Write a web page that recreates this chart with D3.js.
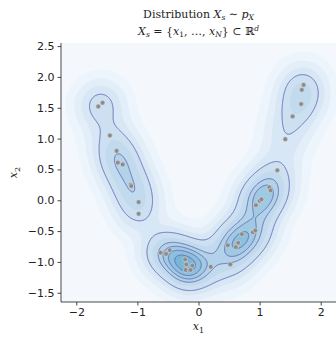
<!DOCTYPE html>
<html>
<head>
<meta charset="utf-8">
<script src="https://cdn.jsdelivr.net/npm/d3@7"></script>
<style>
  body { margin: 0; background: #fff; }
  text { fill: #222; }
</style>
</head>
<body>
<svg id="chart" width="336" height="337"></svg>
<script>
// sample points
const x1Values = [
  -1.64, -1.57, -1.45, -1.34, -1.32, -1.24, -1.11, -1.10, -0.98, -0.98,
  -0.62, -0.53, -0.47, -0.22, -0.20, -0.10, -0.21, -0.13,
  0.20, 0.52, 0.48, 0.61, 0.65, 0.71, 0.89, 0.93,
  0.94, 1.00, 1.03, 1.16, 1.18, 1.29,
  1.42, 1.54, 1.68, 1.69, 1.72
];
const x2Values = [
  1.52, 1.58, 1.05, 0.80, 0.61, 0.58, 0.25, 0.23, -0.03, -0.22,
  -0.85, -0.87, -0.81, -0.96, -1.04, -1.06, -1.13, -1.13,
  -1.08, -1.04, -0.73, -0.76, -0.69, -0.55, -0.52, -0.49,
  -0.08, -0.01, 0.015, 0.21, 0.16, 0.485,
  0.99, 1.36, 1.56, 1.79, 1.87
];
const xTicks = [-2, -1, 0, 1, 2];
const yTicks = [-1.5, -1.0, -0.5, 0.0, 0.5, 1.0, 1.5, 2.0, 2.5];

// density levels as fractions of the peak
const fillLevels = [0.025, 0.08, 0.16, 0.27, 0.4, 0.54, 0.66, 0.78, 0.9];
const lineLevels = [0.27, 0.54, 0.66, 0.78, 0.9];

const svg = d3.select('#chart');
const margin = { top: 43, left: 61, right: 0, bottom: 35 };
const width = 336 - margin.left - margin.right;
const height = 337 - margin.top - margin.bottom;

const x = d3.scaleLinear().domain([-2.25, 2.25]).range([0, width]);
const y = d3.scaleLinear().domain([-1.65, 2.55]).range([height, 0]);

const g = svg.append('g').attr('transform', `translate(${margin.left},${margin.top})`);

g.append('clipPath').attr('id', 'clip')
  .append('rect').attr('width', width).attr('height', height);

// gaussian kde evaluated per pixel
const bw = 0.25;
const nx = Math.ceil(width), ny = Math.ceil(height);
const grid = new Float64Array(nx * ny);
const pts = x1Values.map((v, i) => [v, x2Values[i]]);
for (let j = 0; j < ny; j++) {
  const yy = y.invert(j + 0.5);
  for (let i = 0; i < nx; i++) {
    const xx = x.invert(i + 0.5);
    let s = 0;
    for (const [px, py] of pts) {
      const dx = (xx - px) / bw, dy = (yy - py) / bw;
      s += Math.exp(-0.5 * (dx * dx + dy * dy));
    }
    grid[j * nx + i] = s;
  }
}
const peak = d3.max(grid);

const plot = g.append('g').attr('clip-path', 'url(#clip)');
plot.append('rect').attr('width', width).attr('height', height)
  .attr('fill', '#f4f8fd');

const contours = d3.contours().size([nx, ny]);
const path = d3.geoPath();
const fillColor = d3.scaleLinear().domain([0, fillLevels.length - 1]).range([0.05, 0.47]);

plot.selectAll('.band')
  .data(contours.thresholds(fillLevels.map(f => f * peak))(grid))
  .enter()
  .append('path')
  .attr('class', 'band')
  .attr('d', path)
  .attr('fill', (_, i) => d3.interpolateBlues(fillColor(i)));

plot.selectAll('.iso')
  .data(contours.thresholds(lineLevels.map(f => f * peak))(grid))
  .enter()
  .append('path')
  .attr('class', 'iso')
  .attr('d', path)
  .attr('fill', 'none')
  .attr('stroke', '#6a70b6')
  .attr('stroke-width', 1);

plot.selectAll('.point')
  .data(pts)
  .enter()
  .append('circle')
  .attr('class', 'point')
  .attr('cx', d => x(d[0]))
  .attr('cy', d => y(d[1]))
  .attr('r', 2.4)
  .attr('fill', '#8c8c8c')
  .attr('stroke', '#d8d8d8')
  .attr('stroke-width', 0.6);

// axes
const xAxis = d3.axisBottom(x).tickValues(xTicks).tickSize(3.5).tickPadding(3)
  .tickFormat(d => d3.format('d')(d).replace('-', '\u2212'));
const yAxis = d3.axisLeft(y).tickValues(yTicks).tickSize(3.5).tickPadding(3)
  .tickFormat(d => d3.format('.1f')(d).replace('-', '\u2212'));

const gx = g.append('g').attr('transform', `translate(0,${height})`).call(xAxis);
const gy = g.append('g').call(yAxis);
[gx, gy].forEach(a => {
  a.selectAll('text').style('font-family', 'DejaVu Sans').style('font-size', '11px').attr('fill', '#222');
  a.selectAll('line, path').attr('stroke', '#333').attr('stroke-width', 0.9);
  a.select('.domain').attr('d', a === gx ? `M0,0H${width}` : `M0,0V${height}`);
});

// labels
const serif = 'DejaVu Serif';
const xl = svg.append('text').attr('x', margin.left + x(0)).attr('y', 330)
  .attr('text-anchor', 'middle').style('font-family', serif).style('font-size', '11px');
xl.append('tspan').style('font-style', 'italic').text('x');
xl.append('tspan').attr('dy', 3).style('font-size', '8px').text('1');

const yl = svg.append('text').attr('transform', `translate(17,${margin.top + y(0.45)}) rotate(-90)`)
  .attr('text-anchor', 'middle').style('font-family', serif).style('font-size', '11px');
yl.append('tspan').style('font-style', 'italic').text('x');
yl.append('tspan').attr('dy', 3).style('font-size', '8px').text('2');

const cx = margin.left + x(0);
const t1 = svg.append('text').attr('x', cx).attr('y', 18).attr('text-anchor', 'middle')
  .style('font-family', serif).style('font-size', '11px');
t1.append('tspan').text('Distribution ');
t1.append('tspan').style('font-style', 'italic').text('X');
t1.append('tspan').attr('dy', 2).style('font-size', '7.5px').style('font-style', 'italic').text('s');
t1.append('tspan').attr('dy', -2).text(' \u223C ');
t1.append('tspan').style('font-style', 'italic').text('p');
t1.append('tspan').attr('dy', 2).style('font-size', '7.5px').style('font-style', 'italic').text('X');

const t2 = svg.append('text').attr('x', cx).attr('y', 35).attr('text-anchor', 'middle')
  .style('font-family', serif).style('font-size', '11px');
t2.append('tspan').style('font-style', 'italic').text('X');
t2.append('tspan').attr('dy', 2).style('font-size', '7.5px').style('font-style', 'italic').text('s');
t2.append('tspan').attr('dy', -2).text(' = {');
t2.append('tspan').style('font-style', 'italic').text('x');
t2.append('tspan').attr('dy', 2).style('font-size', '7.5px').text('1');
t2.append('tspan').attr('dy', -2).text(', \u2026, ');
t2.append('tspan').style('font-style', 'italic').text('x');
t2.append('tspan').attr('dy', 2).style('font-size', '7.5px').style('font-style', 'italic').text('N');
t2.append('tspan').attr('dy', -2).text('} \u2282 \u211D');
t2.append('tspan').attr('dy', -4).style('font-size', '7.5px').style('font-style', 'italic').text('d');
</script>
</body>
</html>
